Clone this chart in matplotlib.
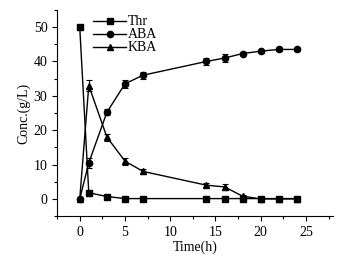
import matplotlib
matplotlib.use("Agg")
import matplotlib.pyplot as plt
from matplotlib.ticker import MultipleLocator
from matplotlib.lines import Line2D

plt.rcParams['font.family'] = ['Liberation Serif', 'DejaVu Serif']

time = [0, 1, 3, 5, 7, 14, 16, 18, 20, 22, 24]
thr = [50, 1.8, 0.7, 0.1, 0.1, 0.1, 0.1, 0.1, 0.1, 0.1, 0.1]
thr_err = [0, 0.3, 0.3, 0.2, 0.2, 0.2, 0.2, 0.2, 0.2, 0.2, 0.2]
aba = [0, 10.5, 25.2, 33.5, 36.0, 40.0, 41.0, 42.3, 43.0, 43.5, 43.5]
aba_err = [0, 1.5, 0.9, 1.2, 1.0, 1.0, 1.2, 0.5, 0.4, 0.4, 0.4]
kba = [0, 33.0, 18.0, 11.0, 8.0, 4.0, 3.5, 0.8, 0.0, 0.0, 0.0]
kba_err = [0, 1.5, 1.0, 1.0, 0.8, 0.6, 0.8, 0.4, 0.2, 0.2, 0.2]
labels = ['Thr', 'ABA', 'KBA']
markers = ['s', 'o', '^']

fig = plt.figure(figsize=(3.42, 2.61), dpi=100)
ax = fig.add_axes([0.167, 0.172, 0.807, 0.79])

kw = dict(color='black', lw=1.0, ms=4.5, capsize=2, elinewidth=0.8, capthick=0.8)
for y, e, m, lab in zip([thr, aba, kba], [thr_err, aba_err, kba_err], markers, labels):
    ax.errorbar(time, y, yerr=e, marker=m, label=lab, **kw)

ax.set_xlim(-2.5, 28)
ax.set_ylim(-5, 55)
ax.xaxis.set_major_locator(MultipleLocator(5))
ax.xaxis.set_minor_locator(MultipleLocator(2.5))
ax.yaxis.set_major_locator(MultipleLocator(10))
ax.yaxis.set_minor_locator(MultipleLocator(5))
ax.spines['top'].set_visible(False)
ax.spines['right'].set_visible(False)
ax.tick_params(which='both', direction='out', labelsize=10, width=0.8)
ax.tick_params(which='major', length=3.5)
ax.tick_params(which='minor', length=2)
ax.set_xlabel('Time(h)', fontsize=10, labelpad=1)
ax.set_ylabel('Conc.(g/L)', fontsize=10, labelpad=2)

handles = [Line2D([], [], color='black', lw=1.0, marker=m, ms=4.5) for m in markers]
leg = ax.legend(handles, labels, loc='upper left', bbox_to_anchor=(0.11, 1.0), frameon=False,
                fontsize=10, handlelength=2.4, handletextpad=0.1,
                labelspacing=0.0, borderaxespad=0)

fig.savefig('out.png', dpi=100)
